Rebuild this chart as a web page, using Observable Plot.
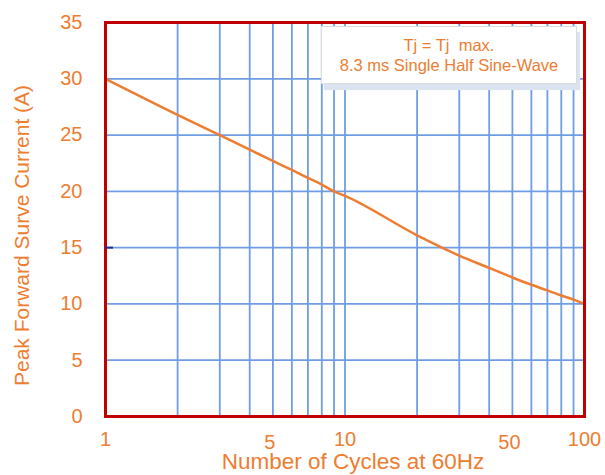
<!DOCTYPE html>
<html><head><meta charset="utf-8">
<script src="https://cdn.jsdelivr.net/npm/d3@7"></script>
<script src="https://cdn.jsdelivr.net/npm/@observablehq/plot@0.6"></script>
<style>
body{margin:0;background:#fff;font-family:"Liberation Sans",Arial,sans-serif;}
#wrap{position:relative;width:605px;height:475px;}
#note{position:absolute;left:321px;top:26px;width:256px;height:58px;background:#fff;border:1px solid #dcdcdc;box-shadow:3px 6px 1px #dbe4ee;color:#ED7D31;font-size:16.5px;text-align:center;line-height:20px;box-sizing:border-box;padding-top:8px;}
</style></head>
<body><div id="wrap"></div>
<script>
const cycles = [1,2,3,4,5,6,7,8,9,10,20,30,40,50,60,70,80,90,100];
const current = [30,26.8,25.0,23.7,22.7,21.9,21.2,20.6,20.0,19.6,16.1,14.3,13.2,12.35,11.7,11.2,10.75,10.38,10.0];
const xTicksMain = [1,10,100];
const xTicksMid = [5,50];
const yTicks = [0,5,10,15,20,25,30,35];
const gridXVals = [2,3,4,5,6,7,8,9,10,20,30,40,50,60,70,80,90];
const gridYVals = [5,10,15,20,25,30];
const xTitle = "Number of Cycles at 60Hz";
const yTitle = "Peak Forward Surve Current (A)";
const noteLines = ["Tj = Tj\u00a0 max.", "8.3 ms Single Half Sine-Wave"];

const orange = "#ED7D31", blue = "#6e9de3", red = "#C00000", navy = "#1f2f8f";
const data = cycles.map((c, i) => ({c, v: current[i]}));

const chart = Plot.plot({
  width: 605, height: 475,
  marginLeft: 105, marginRight: 21, marginTop: 22, marginBottom: 59,
  x: {type: "log", domain: [1, 100]},
  y: {domain: [0, 35]},
  style: {fontFamily: "'Liberation Sans', Arial, sans-serif", color: orange, background: "white", overflow: "visible"},
  marks: [
    Plot.gridX(gridXVals, {stroke: blue, strokeOpacity: 1, strokeWidth: 1.8}),
    Plot.gridY(gridYVals, {stroke: blue, strokeOpacity: 1, strokeWidth: 1.8}),
    Plot.line(data, {x: "c", y: "v", stroke: orange, strokeWidth: 2.5, curve: "monotone-x"}),
    Plot.frame({stroke: red, strokeWidth: 3}),
    Plot.axisY(yTicks, {tickSize: 0, tickPadding: 23, fontSize: 20, label: null}),
    Plot.axisY([15], {tickSize: -8, stroke: navy, strokeWidth: 2, tickFormat: () => "", label: null}),
    Plot.axisX(xTicksMain, {tickSize: 0, tickPadding: 15, fontSize: 20, label: null, tickFormat: d => `${d}`}),
    Plot.text(xTicksMid, {x: d => d, frameAnchor: "bottom", lineAnchor: "top", dy: 18, dx: -3, fontSize: 20, fill: orange}),
    Plot.text([xTitle], {frameAnchor: "bottom", dy: 52, dx: 8, fontSize: 22.5, fill: orange}),
    Plot.text([yTitle], {frameAnchor: "left", textAnchor: "middle", rotate: -90, dx: -83, dy: 16, fontSize: 21, fill: orange})
  ]
});
const wrap = document.getElementById("wrap");
wrap.appendChild(chart);
const note = document.createElement("div");
note.id = "note";
noteLines.forEach((t, i) => {
  if (i) note.appendChild(document.createElement("br"));
  note.appendChild(document.createTextNode(t));
});
wrap.appendChild(note);
</script>
</body></html>
